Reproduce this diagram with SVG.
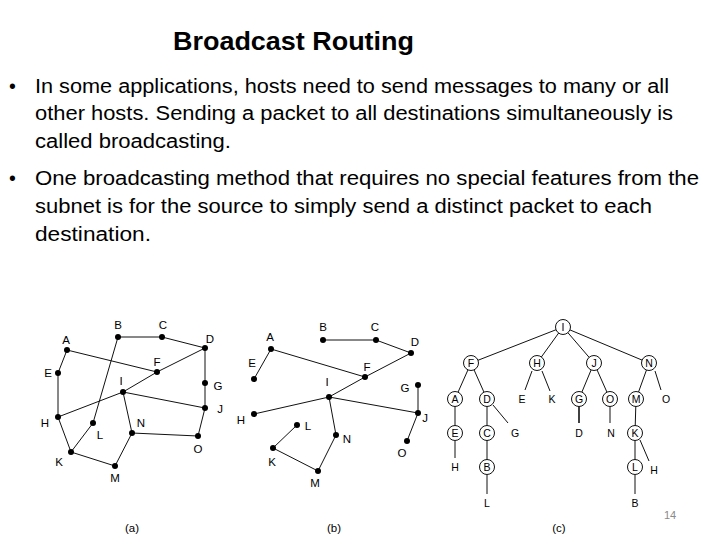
<svg xmlns="http://www.w3.org/2000/svg" width="720" height="540" viewBox="0 0 720 540">
<style>
.title{font-family:"Liberation Sans",Arial,sans-serif;font-weight:bold;font-size:25px;fill:#000}
.body{font-family:"Liberation Sans",Arial,sans-serif;font-size:19.5px;fill:#000}
.lbl{font-family:"Liberation Sans",Arial,sans-serif;font-size:11.5px;fill:#000;text-anchor:middle}
.clbl{font-family:"Liberation Sans",Arial,sans-serif;font-size:10.5px;fill:#000;text-anchor:middle}
.edge{stroke:#111;stroke-width:1;fill:none}
.dot{fill:#000}
.circ{fill:#fff;stroke:#111;stroke-width:1}
.pg{font-family:"Liberation Sans",Arial,sans-serif;font-size:11px;fill:#8a8a8a;text-anchor:middle}
</style>
<rect width="720" height="540" fill="#fff"/>
<text class="title" x="173" y="50" textLength="241" lengthAdjust="spacingAndGlyphs">Broadcast Routing</text>
<g id="bullets">
<text class="body" x="9" y="93">•</text>
<text class="body" x="35" y="93" textLength="634" lengthAdjust="spacingAndGlyphs">In some applications, hosts need to send messages to many or all</text>
<text class="body" x="35" y="120" textLength="638" lengthAdjust="spacingAndGlyphs">other hosts. Sending a packet to all destinations simultaneously is</text>
<text class="body" x="35" y="148" textLength="196" lengthAdjust="spacingAndGlyphs">called broadcasting.</text>
<text class="body" x="9" y="185">•</text>
<text class="body" x="35" y="185" textLength="664" lengthAdjust="spacingAndGlyphs">One broadcasting method that requires no special features from the</text>
<text class="body" x="35" y="213" textLength="617" lengthAdjust="spacingAndGlyphs">subnet is for the source to simply send a distinct packet to each</text>
<text class="body" x="35" y="241" textLength="116" lengthAdjust="spacingAndGlyphs">destination.</text>
</g>

<!-- Diagram (a) -->
<g id="a-connectors">
<line class="edge" x1="118" y1="337" x2="162" y2="337"/>
<line class="edge" x1="162" y1="337" x2="205" y2="348"/>
<line class="edge" x1="205" y1="348" x2="205" y2="383"/>
<line class="edge" x1="205" y1="383" x2="205" y2="408"/>
<line class="edge" x1="205" y1="348" x2="157" y2="372"/>
<line class="edge" x1="157" y1="372" x2="123" y2="392"/>
<line class="edge" x1="123" y1="392" x2="58" y2="417"/>
<line class="edge" x1="67" y1="350" x2="157" y2="372"/>
<line class="edge" x1="67" y1="350" x2="58" y2="373"/>
<line class="edge" x1="58" y1="373" x2="58" y2="417"/>
<line class="edge" x1="118" y1="337" x2="93" y2="423"/>
<line class="edge" x1="93" y1="423" x2="71" y2="452"/>
<line class="edge" x1="58" y1="417" x2="71" y2="452"/>
<line class="edge" x1="71" y1="452" x2="115" y2="466"/>
<line class="edge" x1="115" y1="466" x2="132" y2="433"/>
<line class="edge" x1="132" y1="433" x2="123" y2="392"/>
<line class="edge" x1="123" y1="392" x2="205" y2="408"/>
<line class="edge" x1="132" y1="433" x2="198" y2="436"/>
<line class="edge" x1="198" y1="436" x2="205" y2="408"/>
</g>
<g id="a-A"><circle class="dot" cx="67" cy="350" r="3"/><text class="lbl" x="66" y="344">A</text></g>
<g id="a-B"><circle class="dot" cx="118" cy="337" r="3"/><text class="lbl" x="118" y="329">B</text></g>
<g id="a-C"><circle class="dot" cx="162" cy="337" r="3"/><text class="lbl" x="163" y="329">C</text></g>
<g id="a-D"><circle class="dot" cx="205" cy="348" r="3"/><text class="lbl" x="210" y="343">D</text></g>
<g id="a-E"><circle class="dot" cx="58" cy="373" r="3"/><text class="lbl" x="48" y="377">E</text></g>
<g id="a-F"><circle class="dot" cx="157" cy="372" r="3"/><text class="lbl" x="157" y="366">F</text></g>
<g id="a-G"><circle class="dot" cx="205" cy="383" r="3"/><text class="lbl" x="218" y="390">G</text></g>
<g id="a-H"><circle class="dot" cx="58" cy="417" r="3"/><text class="lbl" x="45" y="427">H</text></g>
<g id="a-I"><circle class="dot" cx="123" cy="392" r="3"/><text class="lbl" x="121" y="385">I</text></g>
<g id="a-J"><circle class="dot" cx="205" cy="408" r="3"/><text class="lbl" x="220" y="413">J</text></g>
<g id="a-K"><circle class="dot" cx="71" cy="452" r="3"/><text class="lbl" x="59" y="466">K</text></g>
<g id="a-L"><circle class="dot" cx="93" cy="423" r="3"/><text class="lbl" x="100" y="439">L</text></g>
<g id="a-M"><circle class="dot" cx="115" cy="466" r="3"/><text class="lbl" x="115" y="482">M</text></g>
<g id="a-N"><circle class="dot" cx="132" cy="433" r="3"/><text class="lbl" x="141" y="427">N</text></g>
<g id="a-O"><circle class="dot" cx="198" cy="436" r="3"/><text class="lbl" x="198" y="453">O</text></g>
<text class="lbl" x="132" y="532">(a)</text>

<!-- Diagram (b) -->
<g id="b-connectors">
<line class="edge" x1="323" y1="340" x2="376" y2="340"/>
<line class="edge" x1="376" y1="340" x2="411" y2="353"/>
<line class="edge" x1="411" y1="353" x2="365" y2="377"/>
<line class="edge" x1="365" y1="377" x2="271" y2="349"/>
<line class="edge" x1="271" y1="349" x2="254" y2="379"/>
<line class="edge" x1="365" y1="377" x2="329" y2="397"/>
<line class="edge" x1="329" y1="397" x2="254" y2="414"/>
<line class="edge" x1="329" y1="397" x2="418" y2="413"/>
<line class="edge" x1="418" y1="413" x2="418" y2="385"/>
<line class="edge" x1="418" y1="413" x2="407" y2="441"/>
<line class="edge" x1="329" y1="397" x2="336" y2="435"/>
<line class="edge" x1="336" y1="435" x2="318" y2="471"/>
<line class="edge" x1="318" y1="471" x2="273" y2="448"/>
<line class="edge" x1="273" y1="448" x2="297" y2="425"/>
</g>
<g id="b-A"><circle class="dot" cx="271" cy="349" r="3"/><text class="lbl" x="270" y="341">A</text></g>
<g id="b-B"><circle class="dot" cx="323" cy="340" r="3"/><text class="lbl" x="323" y="331">B</text></g>
<g id="b-C"><circle class="dot" cx="376" cy="340" r="3"/><text class="lbl" x="375" y="331">C</text></g>
<g id="b-D"><circle class="dot" cx="411" cy="353" r="3"/><text class="lbl" x="415" y="346">D</text></g>
<g id="b-E"><circle class="dot" cx="254" cy="379" r="3"/><text class="lbl" x="252" y="367">E</text></g>
<g id="b-F"><circle class="dot" cx="365" cy="377" r="3"/><text class="lbl" x="367" y="371">F</text></g>
<g id="b-G"><circle class="dot" cx="418" cy="385" r="3"/><text class="lbl" x="405" y="392">G</text></g>
<g id="b-H"><circle class="dot" cx="254" cy="414" r="3"/><text class="lbl" x="241" y="424">H</text></g>
<g id="b-I"><circle class="dot" cx="329" cy="397" r="3"/><text class="lbl" x="327" y="386">I</text></g>
<g id="b-J"><circle class="dot" cx="418" cy="413" r="3"/><text class="lbl" x="425" y="422">J</text></g>
<g id="b-K"><circle class="dot" cx="273" cy="448" r="3"/><text class="lbl" x="272" y="466">K</text></g>
<g id="b-L"><circle class="dot" cx="297" cy="425" r="3"/><text class="lbl" x="308" y="430">L</text></g>
<g id="b-M"><circle class="dot" cx="318" cy="471" r="3"/><text class="lbl" x="315" y="487">M</text></g>
<g id="b-N"><circle class="dot" cx="336" cy="435" r="3"/><text class="lbl" x="347" y="443">N</text></g>
<g id="b-O"><circle class="dot" cx="407" cy="441" r="3"/><text class="lbl" x="402" y="457">O</text></g>
<text class="lbl" x="334" y="532">(b)</text>

<!-- Diagram (c) -->
<g id="c-connectors">
<line class="edge" x1="563" y1="327" x2="471" y2="363"/>
<line class="edge" x1="563" y1="327" x2="537" y2="363"/>
<line class="edge" x1="563" y1="327" x2="594" y2="363"/>
<line class="edge" x1="563" y1="327" x2="649" y2="363"/>
<line class="edge" x1="471" y1="363" x2="455" y2="399"/>
<line class="edge" x1="471" y1="363" x2="487" y2="399"/>
<line class="edge" x1="532" y1="371" x2="525" y2="390"/>
<line class="edge" x1="542" y1="371" x2="550" y2="391"/>
<line class="edge" x1="594" y1="363" x2="579" y2="399"/>
<line class="edge" x1="594" y1="363" x2="610" y2="399"/>
<line class="edge" x1="649" y1="363" x2="636" y2="399"/>
<line class="edge" x1="655" y1="371" x2="661" y2="390"/>
<line class="edge" x1="455" y1="399" x2="455" y2="433"/>
<line class="edge" x1="487" y1="399" x2="487" y2="433"/>
<line class="edge" x1="493" y1="405" x2="508" y2="423"/>
<line class="edge" x1="579" y1="406" x2="579" y2="423" style="stroke-width:1.6"/>
<line class="edge" x1="610" y1="406" x2="610" y2="423"/>
<line class="edge" x1="636" y1="399" x2="635" y2="433"/>
<line class="edge" x1="455" y1="441" x2="455" y2="458"/>
<line class="edge" x1="487" y1="433" x2="487" y2="467"/>
<line class="edge" x1="635" y1="433" x2="635" y2="467"/>
<line class="edge" x1="640" y1="440" x2="649" y2="461"/>
<line class="edge" x1="487" y1="475" x2="487" y2="494"/>
<line class="edge" x1="635" y1="475" x2="635" y2="494"/>
</g>
<g id="c-I"><circle class="circ" cx="563" cy="327" r="7.5"/><text class="clbl" x="563" y="330.7">I</text></g>
<g id="c-F"><circle class="circ" cx="471" cy="363" r="7.5"/><text class="clbl" x="471" y="366.7">F</text></g>
<g id="c-H"><circle class="circ" cx="537" cy="363" r="7.5"/><text class="clbl" x="537" y="366.7">H</text></g>
<g id="c-J"><circle class="circ" cx="594" cy="363" r="7.5"/><text class="clbl" x="594" y="366.7">J</text></g>
<g id="c-N"><circle class="circ" cx="649" cy="363" r="7.5"/><text class="clbl" x="649" y="366.7">N</text></g>
<g id="c-A"><circle class="circ" cx="455" cy="399" r="7.5"/><text class="clbl" x="455" y="402.7">A</text></g>
<g id="c-D"><circle class="circ" cx="487" cy="399" r="7.5"/><text class="clbl" x="487" y="402.7">D</text></g>
<g id="c-E2"><text class="clbl" x="522" y="402.7">E</text></g>
<g id="c-K2"><text class="clbl" x="552" y="402.7">K</text></g>
<g id="c-G"><circle class="circ" cx="579" cy="399" r="7.5"/><text class="clbl" x="579" y="402.7">G</text></g>
<g id="c-O"><circle class="circ" cx="610" cy="399" r="7.5"/><text class="clbl" x="610" y="402.7">O</text></g>
<g id="c-M"><circle class="circ" cx="636" cy="399" r="7.5"/><text class="clbl" x="636" y="402.7">M</text></g>
<g id="c-O2"><text class="clbl" x="666" y="402.7">O</text></g>
<g id="c-E"><circle class="circ" cx="455" cy="433" r="7.5"/><text class="clbl" x="455" y="436.7">E</text></g>
<g id="c-C"><circle class="circ" cx="487" cy="433" r="7.5"/><text class="clbl" x="487" y="436.7">C</text></g>
<g id="c-G2"><text class="clbl" x="515" y="436.7">G</text></g>
<g id="c-D2"><text class="clbl" x="579" y="436.7">D</text></g>
<g id="c-N2"><text class="clbl" x="611" y="436.7">N</text></g>
<g id="c-K"><circle class="circ" cx="635" cy="433" r="7.5"/><text class="clbl" x="635" y="436.7">K</text></g>
<g id="c-H2"><text class="clbl" x="455" y="470.7">H</text></g>
<g id="c-B"><circle class="circ" cx="487" cy="467" r="7.5"/><text class="clbl" x="487" y="470.7">B</text></g>
<g id="c-L"><circle class="circ" cx="635" cy="467" r="7.5"/><text class="clbl" x="635" y="470.7">L</text></g>
<g id="c-H3"><text class="clbl" x="654" y="473.7">H</text></g>
<g id="c-L2"><text class="clbl" x="487" y="506.7">L</text></g>
<g id="c-B2"><text class="clbl" x="635" y="506.7">B</text></g>
<text class="lbl" x="559" y="532">(c)</text>
<text class="pg" x="670" y="519">14</text>
</svg>
